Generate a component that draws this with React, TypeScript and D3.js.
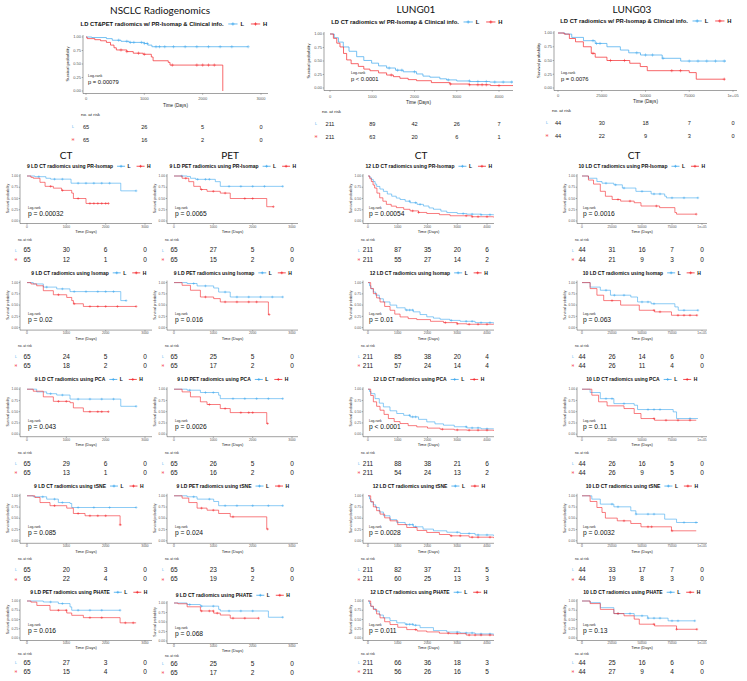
import React, { useEffect, useRef } from "react";
import * as d3 from "d3";

type Pt = [number, number];

const BLUE = "#3ea8ee";
const RED = "#f4262b";

// ---------- top row: full models ----------
const topTitles = [
  "LD CT&PET radiomics w/ PR-Isomap & Clinical info.",
  "LD CT radiomics w/ PR-Isomap & Clinical info.",
  "LD CT radiomics w/ PR-Isomap & Clinical info.",
];
const topP = ["p = 0.00079", "p < 0.0001", "p = 0.0076"];
const topRiskL = [[65, 26, 5, 0], [211, 89, 42, 26, 7], [44, 30, 18, 7, 0]];
const topRiskH = [[65, 16, 2, 0], [211, 63, 20, 6, 1], [44, 22, 9, 3, 0]];

const nsclcTopL: Pt[] = [[0, 1], [100, 0.99], [350, 0.97], [450, 0.94], [600, 0.92], [740, 0.9], [1000, 0.88], [1060, 0.85], [1130, 0.82], [2780, 0.82]];
const nsclcTopH: Pt[] = [[0, 1], [20, 0.97], [150, 0.95], [250, 0.93], [350, 0.9], [420, 0.85], [480, 0.8], [520, 0.76], [700, 0.73], [810, 0.7], [980, 0.68], [1120, 0.63], [1150, 0.56], [1410, 0.53], [1440, 0.48], [2345, 0]];
const nsclcTopLc = [560, 700, 760, 820, 950, 1000, 1050, 1200, 1260, 1350, 1500, 1700, 1900, 2100, 2300, 2500, 2780];
const nsclcTopHc = [600, 700, 900, 1000, 1480, 1900, 2000, 2100, 2200];

const lung01TopL: Pt[] = [[0, 1], [100, 0.93], [200, 0.85], [315, 0.76], [450, 0.68], [631, 0.58], [800, 0.51], [985, 0.46], [1150, 0.41], [1340, 0.37], [1550, 0.33], [1734, 0.3], [2049, 0.26], [2200, 0.22], [2364, 0.2], [2600, 0.17], [2758, 0.15], [3000, 0.13], [3310, 0.12], [3783, 0.11], [4330, 0.11]];
const lung01TopH: Pt[] = [[0, 1], [80, 0.92], [160, 0.83], [236, 0.76], [320, 0.64], [394, 0.52], [500, 0.45], [670, 0.4], [800, 0.35], [946, 0.32], [1150, 0.28], [1340, 0.24], [1500, 0.21], [1655, 0.18], [1850, 0.155], [2049, 0.135], [2400, 0.1], [2837, 0.074], [3300, 0.06], [3800, 0.045], [4334, 0.04]];
const lung01TopLc = [1400, 1600, 1700, 2000, 2800, 3300, 3500, 3700, 3900, 4100, 4300];
const lung01TopHc = [1450, 2850, 3300, 3500, 3600, 3700, 4000];

const lung03TopL: Pt[] = [[0, 1], [4000, 0.98], [7850, 0.92], [14560, 0.86], [21260, 0.81], [27970, 0.75], [35630, 0.69], [40420, 0.64], [47130, 0.6], [59540, 0.54], [70110, 0.49], [96000, 0.49]];
const lung03TopH: Pt[] = [[0, 1], [3500, 0.98], [6500, 0.9], [10000, 0.84], [14500, 0.75], [19000, 0.63], [21260, 0.56], [27970, 0.5], [41000, 0.45], [47000, 0.39], [51000, 0.315], [75000, 0.28], [79000, 0.16], [95400, 0.16]];
const lung03TopLc = [20000, 22000, 24000, 45000, 50000, 54000, 60000, 75000, 80000, 85000, 90000, 95000];
const lung03TopHc = [20000, 30000, 38000, 65000, 70000, 95000];

// ---------- grid: 4 columns x 5 methods ----------
const colHeads = ["CT", "PET", "CT", "CT"];
const methods = ["PR-Isomap", "Isomap", "PCA", "tSNE", "PHATE"];
const colTitles = [
  ["9 LD CT", "9 LD CT", "9 LD CT", "9 LD CT", "9 LD PET"],
  ["9 LD PET", "9 LD PET", "9 LD PET", "9 LD PET", "9 LD CT"],
  ["12 LD CT", "12 LD CT", "12 LD CT", "12 LD CT", "12 LD CT"],
  ["10 LD CT", "10 LD CT", "10 LD CT", "10 LD CT", "10 LD CT"],
];
const colP = [
  ["p = 0.00032", "p = 0.02", "p = 0.043", "p = 0.085", "p = 0.016"],
  ["p = 0.0065", "p = 0.016", "p = 0.0026", "p = 0.024", "p = 0.068"],
  ["p = 0.00054", "p = 0.01", "p < 0.0001", "p = 0.0028", "p = 0.011"],
  ["p = 0.0016", "p = 0.063", "p = 0.11", "p = 0.0032", "p = 0.13"],
];
const colRiskL = [
  [[65, 30, 6, 0], [65, 24, 5, 0], [65, 29, 6, 0], [65, 20, 3, 0], [65, 27, 3, 0]],
  [[65, 27, 5, 0], [65, 25, 5, 0], [65, 26, 5, 0], [65, 23, 5, 0], [66, 25, 5, 0]],
  [[211, 87, 35, 20, 6], [211, 85, 38, 20, 4], [211, 88, 38, 21, 6], [211, 82, 37, 21, 5], [211, 66, 36, 18, 3]],
  [[44, 31, 16, 7, 0], [44, 26, 14, 6, 0], [44, 26, 16, 5, 0], [44, 33, 17, 7, 0], [44, 25, 16, 6, 0]],
];
const colRiskH = [
  [[65, 12, 1, 0], [65, 18, 2, 0], [65, 13, 1, 0], [65, 22, 4, 0], [65, 15, 4, 0]],
  [[65, 15, 2, 0], [65, 17, 2, 0], [65, 16, 2, 0], [65, 19, 2, 0], [65, 17, 2, 0]],
  [[211, 55, 27, 14, 2], [211, 57, 24, 14, 4], [211, 54, 24, 13, 2], [211, 60, 25, 13, 3], [211, 56, 26, 16, 5]],
  [[44, 21, 9, 3, 0], [44, 26, 11, 4, 0], [44, 26, 9, 5, 0], [44, 19, 8, 3, 0], [44, 27, 9, 4, 0]],
];

// NSCLC CT
const c1L: Pt[][] = [
  [[0, 1], [200, 0.985], [480, 0.95], [600, 0.93], [1120, 0.84], [2384, 0.67], [2774, 0.67]],
  [[0, 1], [160, 0.97], [415, 0.9], [755, 0.86], [1094, 0.8], [2384, 0.6], [2520, 0.6]],
  [[0, 1], [246, 0.94], [500, 0.9], [755, 0.87], [1094, 0.78], [2384, 0.62], [2774, 0.62]],
  [[0, 1], [160, 0.978], [500, 0.926], [797, 0.85], [1094, 0.83], [1137, 0.74], [2774, 0.74]],
  [[0, 1], [415, 0.973], [797, 0.93], [1094, 0.84], [1137, 0.75], [2367, 0.75]],
];
const c1H: Pt[][] = [
  [[0, 1], [100, 0.97], [160, 0.95], [330, 0.86], [460, 0.77], [670, 0.73], [880, 0.68], [1137, 0.62], [1180, 0.5], [1500, 0.39], [2070, 0.39]],
  [[0, 1], [100, 0.97], [246, 0.93], [415, 0.82], [670, 0.73], [1010, 0.67], [1137, 0.6], [1180, 0.53], [1433, 0.47], [2774, 0.47]],
  [[0, 1], [160, 0.955], [415, 0.83], [670, 0.73], [1094, 0.7], [1179, 0.585], [1433, 0.5], [2069, 0.5]],
  [[0, 1], [200, 0.963], [331, 0.85], [585, 0.78], [1010, 0.726], [1179, 0.607], [1476, 0.556], [2367, 0.355], [2400, 0.355]],
  [[0, 1], [100, 0.97], [250, 0.88], [585, 0.75], [1010, 0.676], [1137, 0.613], [1433, 0.55], [2367, 0.41], [2774, 0.41]],
];
const c1Lc = [
  [300, 700, 900, 1300, 1500, 1700, 1900, 2100, 2774],
  [500, 900, 1200, 1500, 1800, 2000, 2200, 2520],
  [600, 900, 1300, 1600, 1900, 2200, 2774],
  [400, 700, 900, 1300, 1700, 2100, 2774],
  [600, 900, 1300, 1600, 1900, 2367],
];
const c1Hc = [
  [600, 900, 1300, 1600, 1700, 1800, 1900, 2000, 2070],
  [800, 1200, 1600, 1800, 2000, 2300, 2774],
  [800, 1000, 1600, 1800, 1900, 2069],
  [700, 1300, 1600, 1800, 2000, 2367],
  [800, 1000, 1600, 1900, 2500, 2700],
];

// NSCLC PET
const c2L: Pt[][] = [
  [[0, 1], [334, 0.99], [418, 0.95], [550, 0.926], [1051, 0.874], [1177, 0.77], [2764, 0.77]],
  [[0, 1], [334, 0.98], [587, 0.926], [1009, 0.88], [1135, 0.79], [1430, 0.68], [2764, 0.68]],
  [[0, 1], [334, 0.978], [671, 0.926], [1135, 0.867], [1177, 0.79], [2764, 0.79]],
  [[0, 1], [334, 0.978], [587, 0.926], [1009, 0.874], [1135, 0.78], [2764, 0.78]],
  [[0, 1], [334, 0.96], [671, 0.917], [1135, 0.833], [1177, 0.79], [2400, 0.625], [2764, 0.625]],
];
const c2H: Pt[][] = [
  [[0, 1], [206, 0.95], [375, 0.874], [502, 0.77], [671, 0.7], [840, 0.66], [1177, 0.62], [1430, 0.5], [2358, 0.318], [2527, 0.318]],
  [[0, 1], [206, 0.94], [418, 0.83], [671, 0.68], [1009, 0.644], [1177, 0.57], [2400, 0.29], [2420, 0.29]],
  [[0, 1], [206, 0.94], [418, 0.83], [671, 0.72], [840, 0.66], [1177, 0.57], [1430, 0.48], [2358, 0.237], [2380, 0.237]],
  [[0, 1], [206, 0.948], [375, 0.85], [587, 0.726], [840, 0.68], [1135, 0.607], [1430, 0.533], [2358, 0.26], [2380, 0.26]],
  [[0, 1], [100, 0.98], [334, 0.9], [671, 0.79], [1009, 0.733], [1177, 0.683], [1430, 0.6], [2150, 0.6]],
];
const c2Lc = [
  [200, 600, 800, 900, 1400, 1700, 2000, 2300, 2764],
  [500, 800, 1300, 1600, 1900, 2200, 2500, 2764],
  [400, 800, 1000, 1500, 1800, 2100, 2400, 2764],
  [500, 900, 1300, 1600, 2000, 2400, 2764],
  [400, 700, 1000, 1400, 1700, 2000, 2764],
];
const c2Hc = [
  [300, 700, 1000, 1300, 1800, 2000, 2527],
  [800, 1300, 1600, 1900, 2100, 2420],
  [900, 1300, 1700, 1900, 2000, 2380],
  [700, 1000, 1500, 2380],
  [700, 900, 1000, 1100, 1500, 1800, 2150],
];

// LUNG01 CT
const c3L: Pt[][] = [
  [[0, 1], [60, 0.96], [120, 0.92], [180, 0.877], [240, 0.82], [292, 0.768], [400, 0.71], [517, 0.659], [650, 0.6], [797, 0.551], [950, 0.51], [1078, 0.478], [1250, 0.44], [1414, 0.406], [1650, 0.37], [1863, 0.333], [2050, 0.29], [2200, 0.261], [2450, 0.22], [2649, 0.188], [3000, 0.165], [3322, 0.152], [3800, 0.14], [4220, 0.13]],
  [[0, 1], [50, 0.93], [100, 0.86], [180, 0.79], [258, 0.72], [380, 0.64], [517, 0.57], [740, 0.5], [966, 0.44], [1250, 0.39], [1526, 0.35], [1750, 0.29], [1975, 0.24], [2200, 0.21], [2424, 0.185], [2750, 0.16], [3097, 0.14], [3600, 0.11], [4220, 0.09]],
  [[0, 1], [50, 0.95], [100, 0.9], [236, 0.79], [380, 0.69], [517, 0.607], [740, 0.52], [966, 0.46], [1200, 0.42], [1414, 0.385], [1700, 0.33], [1975, 0.274], [2250, 0.23], [2537, 0.2], [2900, 0.165], [3322, 0.14], [3800, 0.12], [4220, 0.11]],
  [[0, 1], [50, 0.93], [100, 0.86], [180, 0.8], [258, 0.74], [380, 0.64], [517, 0.556], [740, 0.47], [966, 0.407], [1250, 0.36], [1526, 0.311], [1850, 0.26], [2200, 0.222], [2650, 0.19], [3097, 0.163], [3600, 0.13], [4220, 0.111]],
  [[0, 1], [50, 0.93], [100, 0.85], [180, 0.79], [258, 0.727], [380, 0.62], [517, 0.545], [740, 0.47], [966, 0.41], [1250, 0.37], [1526, 0.345], [1750, 0.28], [2200, 0.2], [2650, 0.16], [3097, 0.136], [3600, 0.11], [4220, 0.09]],
];
const c3H: Pt[][] = [
  [[0, 1], [60, 0.94], [112, 0.877], [170, 0.8], [224, 0.732], [300, 0.62], [393, 0.515], [500, 0.44], [617, 0.37], [780, 0.33], [954, 0.297], [1200, 0.26], [1414, 0.225], [1700, 0.19], [1975, 0.167], [2400, 0.14], [2760, 0.116], [3500, 0.095], [4220, 0.08]],
  [[0, 1], [90, 0.87], [180, 0.755], [290, 0.66], [404, 0.57], [560, 0.47], [741, 0.385], [900, 0.3], [1078, 0.237], [1350, 0.2], [1639, 0.178], [2100, 0.14], [2537, 0.111], [3000, 0.085], [3322, 0.074], [4220, 0.067]],
  [[0, 1], [90, 0.86], [180, 0.72], [290, 0.62], [404, 0.533], [540, 0.44], [685, 0.348], [880, 0.28], [1078, 0.237], [1350, 0.19], [1639, 0.163], [2000, 0.135], [2424, 0.111], [2900, 0.095], [3322, 0.089], [4220, 0.074]],
  [[0, 1], [90, 0.87], [180, 0.755], [290, 0.67], [404, 0.593], [560, 0.51], [741, 0.444], [1000, 0.36], [1302, 0.296], [1650, 0.23], [1975, 0.185], [2400, 0.14], [2760, 0.111], [3400, 0.08], [4220, 0.06]],
  [[0, 1], [90, 0.86], [180, 0.773], [290, 0.65], [404, 0.545], [560, 0.44], [741, 0.364], [1000, 0.29], [1302, 0.227], [1650, 0.19], [1975, 0.164], [2400, 0.13], [2760, 0.118], [3300, 0.08], [4220, 0.064]],
];
const c3Lc = [
  [1400, 1600, 1750, 3200, 3500, 3800, 4100],
  [1300, 1400, 1500, 2800, 3300, 3500, 3800, 4100],
  [1400, 1500, 1600, 3300, 3500, 3700, 4000],
  [1400, 1500, 1600, 3000, 3400, 3700, 4000],
  [1300, 1400, 1500, 1600, 3000, 3300, 3500, 3800, 4100],
];
const c3Hc = [
  [1500, 1700, 3300, 3500, 3700, 4000],
  [2600, 3000, 3400, 3700, 4000],
  [2500, 3000, 3400, 3700, 4000],
  [2800, 3100, 3500, 3700, 4100],
  [1600, 2700, 3000, 3400, 3600, 3800, 4100],
];

// LUNG03 CT
const c4L: Pt[][] = [
  [[0, 1], [5370, 0.95], [12430, 0.877], [16670, 0.84], [26550, 0.804], [33620, 0.732], [44920, 0.659], [57630, 0.601], [68930, 0.551], [70340, 0.514], [96610, 0.514]],
  [[0, 1], [6780, 0.9], [15250, 0.83], [23720, 0.72], [40670, 0.68], [46300, 0.57], [57600, 0.53], [77400, 0.46], [80200, 0.385], [96610, 0.385]],
  [[0, 1], [6780, 0.926], [15250, 0.79], [26550, 0.68], [43500, 0.644], [46300, 0.548], [76000, 0.496], [78800, 0.348], [96610, 0.348]],
  [[0, 1], [8200, 0.926], [15250, 0.815], [26550, 0.755], [40670, 0.667], [44900, 0.593], [68900, 0.481], [78800, 0.407], [96610, 0.407]],
  [[0, 1], [6780, 0.955], [15250, 0.82], [26550, 0.66], [43500, 0.6], [54800, 0.536], [71750, 0.464], [94000, 0.464]],
];
const c4H: Pt[][] = [
  [[0, 1], [5370, 0.91], [9600, 0.82], [15250, 0.66], [19500, 0.55], [25140, 0.478], [32200, 0.442], [43500, 0.406], [49150, 0.333], [64680, 0.297], [77400, 0.188], [78800, 0.152], [95200, 0.152]],
  [[0, 1], [6780, 0.867], [12430, 0.72], [18080, 0.6], [32200, 0.5], [47740, 0.385], [60450, 0.35], [74570, 0.274], [95750, 0.274]],
  [[0, 1], [8200, 0.867], [13840, 0.72], [20900, 0.63], [35000, 0.57], [43500, 0.46], [49150, 0.348], [60450, 0.31], [95200, 0.31]],
  [[0, 1], [6780, 0.874], [12430, 0.74], [16670, 0.63], [19500, 0.504], [29400, 0.444], [40670, 0.385], [49150, 0.311], [74570, 0.222], [95200, 0.222]],
  [[0, 1], [6780, 0.93], [15250, 0.773], [26550, 0.66], [35000, 0.6], [43500, 0.51], [47740, 0.373], [60450, 0.327], [68900, 0.327], [78800, 0.236], [95750, 0.236]],
];
const c4Lc = [
  [20000, 28000, 35000, 50000, 60000, 65000, 75000, 85000, 96610],
  [20000, 27000, 35000, 50000, 55000, 60000, 85000, 96610],
  [20000, 25000, 35000, 55000, 60000, 65000, 90000],
  [25000, 30000, 45000, 55000, 60000, 85000, 95000],
  [30000, 40000, 50000, 55000, 60000, 65000, 75000, 80000, 94000],
];
const c4Hc = [
  [30000, 40000, 62000, 95200],
  [25000, 60000, 65000, 80000, 85000, 90000, 95750],
  [60000, 70000, 80000, 90000],
  [35000, 55000, 58000, 75000],
  [30000, 60000, 78800, 95750],
];

// ---------- layout ----------
interface Geo {
  ax: number; x0: number; xEnd: number; right: number; xMax: number; xStep: number;
  yTop: number; yBot: number; subY: number; subCx: number;
  tickY: number; titleY: number; nrY: number; r1: number; r2: number;
  pX: number; markX: number; big: boolean;
}
interface Panel {
  title: string; p: string; L: Pt[]; H: Pt[]; cL: number[]; cH: number[];
  riskL: number[]; riskH: number[]; geo: Geo;
}

const topGeo: Geo[] = [
  { ax: 83, x0: 86, xEnd: 261, right: 268, xMax: 3000, xStep: 1000, yTop: 37, yBot: 91, subY: 26, subCx: 173, tickY: 99.5, titleY: 106.5, nrY: 116, r1: 129, r2: 141.5, pX: 88, markX: 73, big: true },
  { ax: 324, x0: 330, xEnd: 499, right: 513, xMax: 4000, xStep: 1000, yTop: 34, yBot: 88, subY: 24, subCx: 416, tickY: 98, titleY: 104, nrY: 113, r1: 126, r2: 138.5, pX: 351, markX: 316, big: true },
  { ax: 554, x0: 558, xEnd: 733, right: 737, xMax: 100000, xStep: 25000, yTop: 33, yBot: 88, subY: 23, subCx: 645, tickY: 97, titleY: 103, nrY: 112, r1: 125, r2: 138, pX: 561, markX: 547, big: true },
];
const COLS = [
  { ax: 20, x0: 27, xEnd: 145, right: 152, xMax: 3000, xStep: 1000, cx: 88, mark: 16 },
  { ax: 167, x0: 174, xEnd: 292, right: 298, xMax: 3000, xStep: 1000, cx: 232, mark: 163 },
  { ax: 363, x0: 368, xEnd: 487, right: 494, xMax: 4000, xStep: 1000, cx: 428, mark: 359 },
  { ax: 577, x0: 582, xEnd: 702, right: 707, xMax: 100000, xStep: 25000, cx: 641, mark: 573 },
];
function rowGeo(c: number, r: number) {
  if (r < 4) {
    const b = 106.6 * r;
    return { subY: 168 + b, yTop: 176 + b, yBot: 221 + b, tickY: 227.5 + b, titleY: 233 + b, nrY: 240.5 + b, r1: 252.3 + b, r2: 261.5 + b };
  }
  if (c === 1) return { subY: 597, yTop: 603, yBot: 641, tickY: 646.5, titleY: 651.5, nrY: 657, r1: 665.5, r2: 674.5 };
  return { subY: 594, yTop: 601, yBot: 638, tickY: 644, titleY: 649, nrY: 655, r1: 664.5, r2: 673.5 };
}

const colL = [c1L, c2L, c3L, c4L];
const colH = [c1H, c2H, c3H, c4H];
const colLc = [c1Lc, c2Lc, c3Lc, c4Lc];
const colHc = [c1Hc, c2Hc, c3Hc, c4Hc];

const panels: Panel[] = [
  { title: topTitles[0], p: topP[0], L: nsclcTopL, H: nsclcTopH, cL: nsclcTopLc, cH: nsclcTopHc, riskL: topRiskL[0], riskH: topRiskH[0], geo: topGeo[0] },
  { title: topTitles[1], p: topP[1], L: lung01TopL, H: lung01TopH, cL: lung01TopLc, cH: lung01TopHc, riskL: topRiskL[1], riskH: topRiskH[1], geo: topGeo[1] },
  { title: topTitles[2], p: topP[2], L: lung03TopL, H: lung03TopH, cL: lung03TopLc, cH: lung03TopHc, riskL: topRiskL[2], riskH: topRiskH[2], geo: topGeo[2] },
];
COLS.forEach((col, c) => {
  methods.forEach((m, r) => {
    panels.push({
      title: `${colTitles[c][r]} radiomics using ${m}`,
      p: colP[c][r],
      L: colL[c][r], H: colH[c][r], cL: colLc[c][r], cH: colHc[c][r],
      riskL: colRiskL[c][r], riskH: colRiskH[c][r],
      geo: {
        ax: col.ax, x0: col.x0, xEnd: col.xEnd, right: col.right, xMax: col.xMax, xStep: col.xStep,
        subCx: col.cx, pX: col.x0 + 1, markX: col.mark, big: false, ...rowGeo(c, r),
      },
    });
  });
});

const headers: [string, number, number][] = [
  ["NSCLC Radiogenomics", 160, 13.5],
  ["LUNG01", 416, 12.5],
  ["LUNG03", 632, 12.5],
  [colHeads[0], 66, 158.5],
  [colHeads[1], 230, 158.5],
  [colHeads[2], 421, 158.5],
  [colHeads[3], 634, 158.5],
];

const FONT = "'Liberation Sans', Arial, sans-serif";
const fmtX = (v: number) => (v >= 100000 ? "1e+05" : String(v));
function stepAt(pts: Pt[], t: number) {
  let s = pts[0][1];
  for (const [ti, si] of pts) if (ti <= t) s = si;
  return s;
}

function drawPanel(root: d3.Selection<SVGGElement, unknown, null, undefined>, pn: Panel, idx: number) {
  const g = pn.geo;
  const f = g.big
    ? { sub: 5.8, tick: 4, title: 4.6, ytitle: 4.2, p: 5.8, lr: 3.6, nr: 4.4, risk: 5.6, mark: 3.6, lw: 0.7 }
    : { sub: 5.0, tick: 3.3, title: 4.0, ytitle: 3.5, p: 6.7, lr: 3.2, nr: 3.2, risk: 6.5, mark: 3.2, lw: 0.6 };
  const x = d3.scaleLinear().domain([0, g.xMax]).range([g.x0, g.xEnd]);
  const y = d3.scaleLinear().domain([0, 1]).range([g.yBot, g.yTop]);
  const ticks = d3.range(0, g.xMax + 1, g.xStep);
  const p = root.append("g").attr("font-family", FONT);

  // subtitle + legend
  const sub = p.append("g");
  const st = sub.append("text").attr("y", g.subY).attr("font-size", f.sub).attr("font-weight", "bold").attr("fill", "#111").text(pn.title);
  const tw = (st.node() as SVGTextElement).getComputedTextLength();
  const segW = f.sub * 1.6;
  const legW = 2 * (f.sub * 0.8 + segW + f.sub * 0.9) + f.sub * 0.6;
  const start = g.subCx - (tw + legW) / 2;
  st.attr("x", start);
  let lx = start + tw + f.sub * 0.8;
  [["L", BLUE], ["H", RED]].forEach(([lab, col]) => {
    const cy = g.subY - f.sub * 0.35;
    sub.append("line").attr("x1", lx).attr("x2", lx + segW).attr("y1", cy).attr("y2", cy).attr("stroke", col).attr("stroke-width", 0.8);
    const m = segW / 2, h = f.sub * 0.28;
    sub.append("path").attr("d", `M${lx + m - h},${cy}H${lx + m + h}M${lx + m},${cy - h}V${cy + h}`).attr("stroke", col).attr("stroke-width", 0.7);
    sub.append("text").attr("x", lx + segW + f.sub * 0.5).attr("y", g.subY).attr("font-size", f.sub).attr("font-weight", "bold").attr("fill", "#111").text(lab);
    lx += segW + f.sub * 0.9 + f.sub * 0.8 + f.sub * 0.6;
  });

  // axes
  const axCol = "#444";
  p.append("line").attr("x1", g.ax).attr("x2", g.ax).attr("y1", g.yTop - 2).attr("y2", g.yBot + 2.5).attr("stroke", axCol).attr("stroke-width", 0.5);
  p.append("line").attr("x1", g.ax).attr("x2", g.right).attr("y1", g.yBot + 2.5).attr("y2", g.yBot + 2.5).attr("stroke", axCol).attr("stroke-width", 0.5);
  [0, 0.25, 0.5, 0.75, 1].forEach((v) => {
    p.append("line").attr("x1", g.ax - 1.3).attr("x2", g.ax).attr("y1", y(v)).attr("y2", y(v)).attr("stroke", axCol).attr("stroke-width", 0.4);
    p.append("text").attr("x", g.ax - 2).attr("y", y(v) + f.tick * 0.35).attr("text-anchor", "end").attr("font-size", f.tick).attr("fill", "#555").text(v.toFixed(2));
  });
  ticks.forEach((v) => {
    p.append("line").attr("x1", x(v)).attr("x2", x(v)).attr("y1", g.yBot + 2.5).attr("y2", g.yBot + 3.8).attr("stroke", axCol).attr("stroke-width", 0.4);
    p.append("text").attr("x", x(v)).attr("y", g.tickY).attr("text-anchor", "middle").attr("font-size", f.tick).attr("fill", "#555").text(fmtX(v));
  });
  p.append("text").attr("x", (g.ax + g.right) / 2).attr("y", g.titleY).attr("text-anchor", "middle").attr("font-size", f.title).attr("fill", "#222").text("Time (Days)");
  const yt = g.ax - (g.big ? 14 : 11);
  p.append("text").attr("transform", `translate(${yt},${(g.yTop + g.yBot) / 2}) rotate(-90)`).attr("text-anchor", "middle").attr("font-size", f.ytitle).attr("fill", "#222").text("Survival probability");

  // curves
  const clipId = `clip${idx}`;
  p.append("clipPath").attr("id", clipId).append("rect").attr("x", g.ax).attr("y", g.yTop - 3).attr("width", g.right - g.ax).attr("height", g.yBot - g.yTop + 5);
  const cg = p.append("g").attr("clip-path", `url(#${clipId})`);
  const line = d3.line<Pt>().x((d) => x(d[0])).y((d) => y(d[1])).curve(d3.curveStepAfter);
  ([[pn.L, pn.cL, BLUE], [pn.H, pn.cH, RED]] as [Pt[], number[], string][]).forEach(([pts, cens, col]) => {
    cg.append("path").datum(pts).attr("d", line).attr("fill", "none").attr("stroke", col).attr("stroke-width", f.lw);
    const h = g.big ? 1.6 : 1.3;
    cg.selectAll(null).data(cens).enter().append("path")
      .attr("d", (t) => { const cx = x(t), cy = y(stepAt(pts, t)); return `M${cx - h},${cy}H${cx + h}M${cx},${cy - h}V${cy + h}`; })
      .attr("stroke", col).attr("stroke-width", 0.45);
  });

  // p-value
  p.append("text").attr("x", g.pX).attr("y", g.yBot - (g.big ? 14 : 12.5)).attr("font-size", f.lr).attr("fill", "#222").text("Log-rank");
  p.append("text").attr("x", g.pX).attr("y", g.yBot - (g.big ? 7.5 : 5.5)).attr("font-size", f.p).attr("fill", "#111").text(pn.p);

  // risk table
  p.append("text").attr("x", g.ax - 2).attr("y", g.nrY).attr("font-size", f.nr).attr("fill", "#222").text("no. at risk");
  ([[pn.riskL, g.r1, BLUE, "L"], [pn.riskH, g.r2, RED, "H"]] as [number[], number, string, string][]).forEach(([vals, ry, col, lab]) => {
    p.append("text").attr("x", g.markX).attr("y", ry - f.risk * 0.1).attr("text-anchor", "middle").attr("font-size", f.mark).attr("fill", col).text(lab);
    vals.forEach((v, i) => {
      p.append("text").attr("x", x(ticks[i])).attr("y", ry).attr("text-anchor", "middle").attr("font-size", f.risk).attr("fill", "#222").text(v);
    });
  });
}

export default function App() {
  const ref = useRef<SVGSVGElement>(null);
  useEffect(() => {
    const svg = d3.select(ref.current);
    svg.selectAll("*").remove();
    svg.append("rect").attr("width", 747).attr("height", 681).attr("fill", "#fff");
    const root = svg.append("g");
    headers.forEach(([t, hx, hy]) => {
      root.append("text").attr("x", hx).attr("y", hy).attr("text-anchor", "middle").attr("font-family", "Lato, 'Open Sans', sans-serif").attr("font-size", 10).attr("fill", "#111").text(t);
    });
    panels.forEach((pn, i) => drawPanel(root, pn, i));
  }, []);
  return <svg ref={ref} width={747} height={681} style={{ position: "absolute", left: 0, top: 0, display: "block" }} />;
}
